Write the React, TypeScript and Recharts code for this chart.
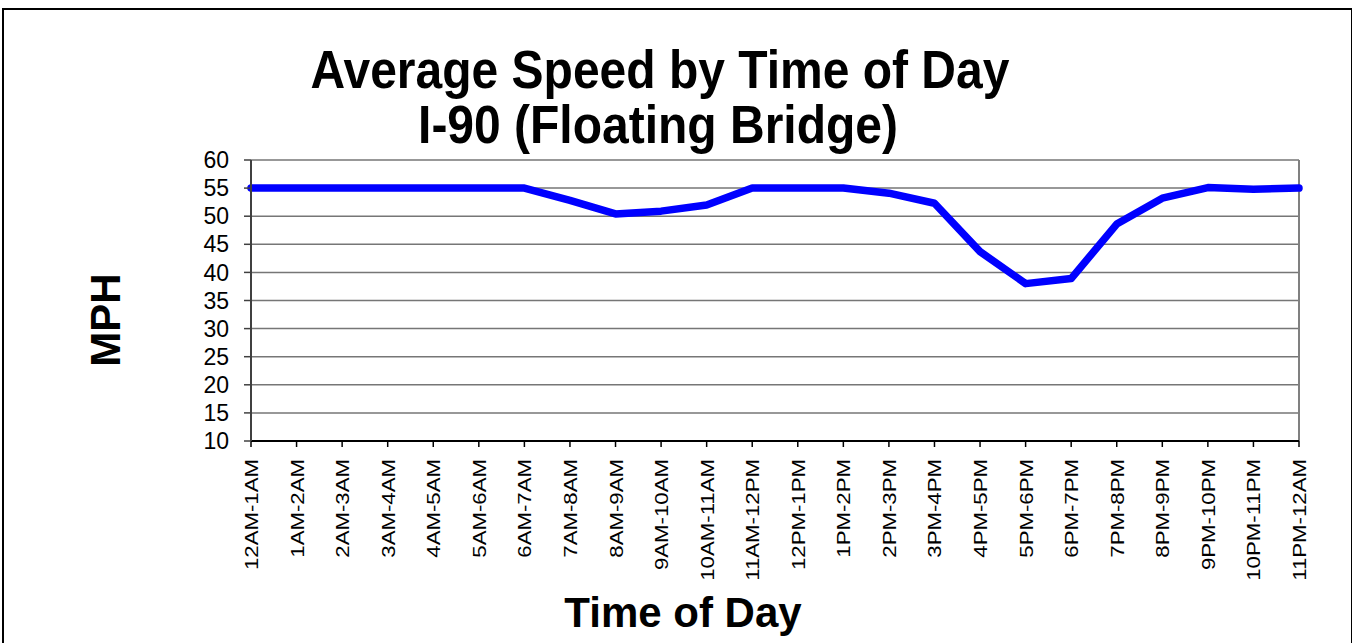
import { CartesianGrid, Line, LineChart, ReferenceLine, XAxis, YAxis } from 'recharts'

const hours = [
  '12AM-1AM', '1AM-2AM', '2AM-3AM', '3AM-4AM', '4AM-5AM', '5AM-6AM',
  '6AM-7AM', '7AM-8AM', '8AM-9AM', '9AM-10AM', '10AM-11AM', '11AM-12PM',
  '12PM-1PM', '1PM-2PM', '2PM-3PM', '3PM-4PM', '4PM-5PM', '5PM-6PM',
  '6PM-7PM', '7PM-8PM', '8PM-9PM', '9PM-10PM', '10PM-11PM', '11PM-12AM',
]

const speeds = [
  55, 55, 55, 55, 55, 55,
  55, 52.8, 50.4, 50.9, 52.0, 55,
  55, 55, 54.1, 52.3, 43.7, 38.0,
  38.9, 48.6, 53.2, 55.1, 54.8, 55,
]

const mphTicks = [10, 15, 20, 25, 30, 35, 40, 45, 50, 55, 60]

const data = hours.map((hour, i) => ({ hour, mph: speeds[i] }))

const font = '"Liberation Sans", Arial, sans-serif'

function HourTick({ x, y, payload }: any) {
  return (
    <text
      transform={`translate(${x + 7},${y + 12}) rotate(-90) scale(1.17,1)`}
      textAnchor="end"
      fontSize={19}
      fontFamily={font}
      fill="#000"
    >
      {payload.value}
    </text>
  )
}

function App() {
  return (
    <div style={{ position: 'fixed', top: 0, left: 0, width: 1352, height: 643, overflow: 'hidden', background: '#fff' }}>
      <div style={{ position: 'absolute', left: 2, top: 8, width: 1347, height: 700, border: '2px solid #000' }} />

      <svg width={1352} height={643} style={{ position: 'absolute', left: 0, top: 0 }}>
        <g fontFamily={font} fontWeight="bold" fill="#000">
          <text transform="translate(660,88) scale(1,1.13)" textAnchor="middle" fontSize={48}>
            Average Speed by Time of Day
          </text>
          <text transform="translate(658,143) scale(1,1.13)" textAnchor="middle" fontSize={48}>
            I-90 (Floating Bridge)
          </text>
          <text transform="translate(120,320) rotate(-90)" textAnchor="middle" fontSize={42}>
            MPH
          </text>
          <text x={683} y={627} textAnchor="middle" fontSize={42}>
            Time of Day
          </text>
        </g>
      </svg>

      <div style={{ position: 'absolute', left: 0, top: 0 }}>
        <LineChart width={1352} height={643} data={data} margin={{ top: 160, right: 53, bottom: 52, left: 191 }}>
          <CartesianGrid vertical={false} stroke="#767676" strokeWidth={1.5} />
          <XAxis
            dataKey="hour"
            interval={0}
            height={150}
            tickSize={6}
            tickMargin={0}
            tick={<HourTick />}
            axisLine={{ stroke: '#000', strokeWidth: 2 }}
            tickLine={{ stroke: '#000', strokeWidth: 1.5 }}
          />
          <YAxis
            domain={[10, 60]}
            ticks={mphTicks}
            interval={0}
            width={60}
            tickSize={7}
            tickMargin={15}
            tick={{ fontSize: 23, fill: '#000', fontFamily: font }}
            axisLine={{ stroke: '#404040', strokeWidth: 2 }}
            tickLine={{ stroke: '#404040', strokeWidth: 1.5 }}
          />
          <ReferenceLine x="11PM-12AM" stroke="#808080" strokeWidth={2} />
          <Line
            type="linear"
            dataKey="mph"
            stroke="#0000ff"
            strokeWidth={7.5}
            strokeLinejoin="round"
            strokeLinecap="round"
            dot={false}
            isAnimationActive={false}
          />
        </LineChart>
      </div>
    </div>
  )
}

export default App
